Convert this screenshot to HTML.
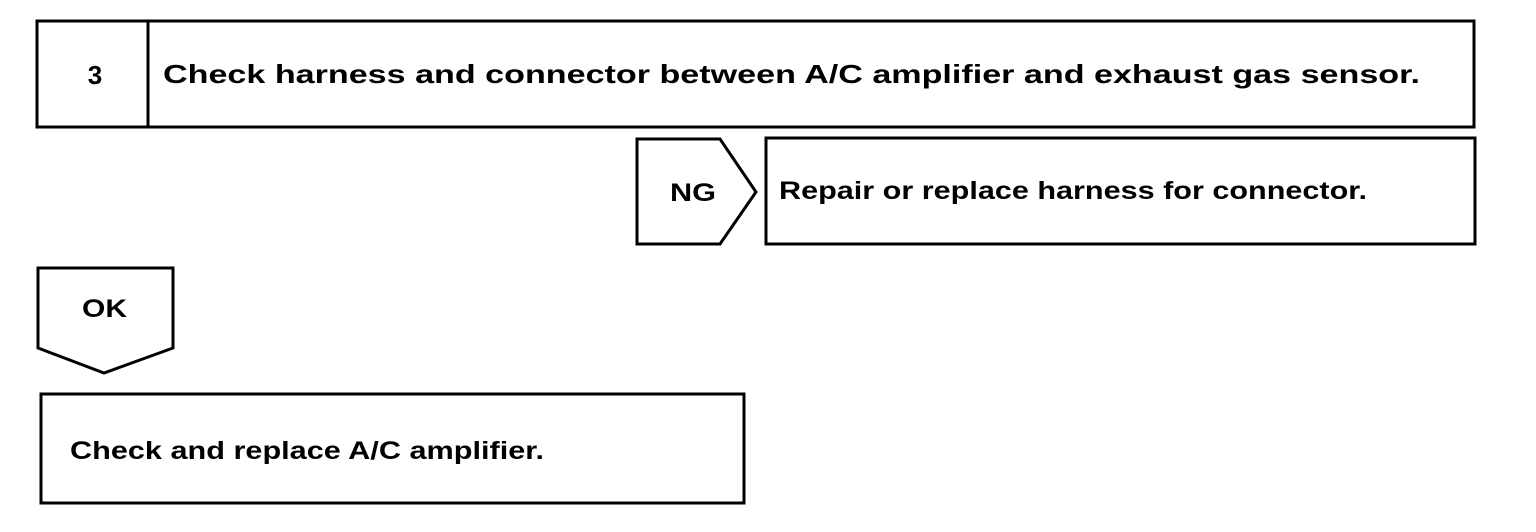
<!DOCTYPE html>
<html><head><meta charset="utf-8"><style>
html,body{margin:0;padding:0;background:#fff;}
svg{display:block;}
text{font-family:"Liberation Sans",Arial,sans-serif;font-weight:bold;fill:#000;}
</style></head><body>
<svg width="1536" height="532" viewBox="0 0 1536 532" xmlns="http://www.w3.org/2000/svg">
<g fill="none" stroke="#000" stroke-width="3">
<rect x="37" y="21" width="1437" height="106"/>
<line x1="148" y1="21" x2="148" y2="127"/>
<polygon points="637,139 720,139 756,192 720,244 637,244"/>
<rect x="766" y="138" width="709" height="106"/>
<polygon points="38,268 173,268 173,348 104,373 38,348"/>
<rect x="41" y="394" width="703" height="109"/>
</g>
<text x="95" y="84" font-size="26" text-anchor="middle">3</text>
<text x="163" y="83" font-size="26" textLength="1257" lengthAdjust="spacingAndGlyphs">Check harness and connector between A/C amplifier and exhaust gas sensor.</text>
<text x="670" y="201" font-size="25" textLength="46" lengthAdjust="spacingAndGlyphs">NG</text>
<text x="779" y="199" font-size="25" textLength="588" lengthAdjust="spacingAndGlyphs">Repair or replace harness for connector.</text>
<text x="82" y="317" font-size="25" textLength="45" lengthAdjust="spacingAndGlyphs">OK</text>
<text x="70" y="459" font-size="25" textLength="474" lengthAdjust="spacingAndGlyphs">Check and replace A/C amplifier.</text>
</svg>
</body></html>
